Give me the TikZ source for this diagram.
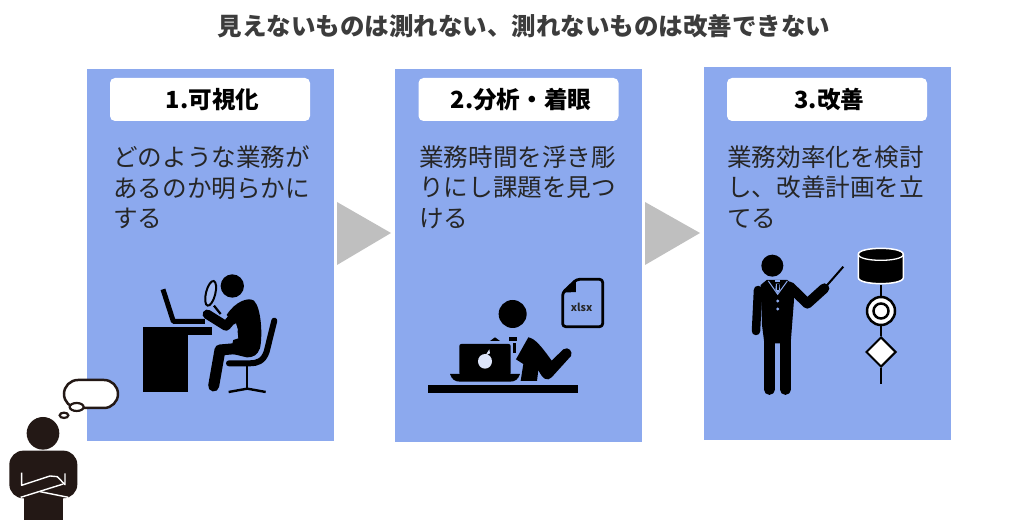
\documentclass[tikz,border=0pt]{standalone}
\usepackage{xcolor}
\usepackage{fontspec}
\setmainfont{Noto Sans CJK JP}
\usetikzlibrary{shapes.geometric}
\definecolor{panelblue}{HTML}{8CA9EE}
\definecolor{arrowgray}{HTML}{BFBFBF}
\definecolor{inkdark}{HTML}{231815}
\definecolor{textdark}{HTML}{262626}

\begin{document}
\begin{tikzpicture}[x=1pt,y=-1pt,
  panelbox/.style={fill=panelblue, minimum width=247pt, minimum height=372pt, inner sep=0pt},
  headbox/.style={fill=white, rounded corners=5pt, minimum width=200pt, minimum height=43pt, inner sep=0pt,
    text=black, font=\fontsize{23.6}{28}\selectfont\bfseries},
  bodytext/.style={anchor=north west, align=left, inner sep=0pt, text=textdark,
    font=\fontsize{24.6}{30.6}\selectfont},
  flowline/.style={black, line width=2pt},
  icon/.style={shift={#1}, scale=0.3333}
]
\useasboundingbox (0,0) rectangle (1024,526);

% Title
\node[font=\fontsize{24.5}{28}\selectfont\bfseries, text=textdark!90!white] (title) at (524,26) {見えないものは測れない、測れないものは改善できない};

% Panels
\node[panelbox] (panelA) at (210.5,255) {};
\node[panelbox] (panelB) at (518.5,255.5) {};
\node[panelbox] (panelC) at (827.5,253.5) {};

% Headers
\node[headbox] (headA) at (210,99.5) {\hspace*{5pt}1.可視化};
\node[headbox] (headB) at (518.5,99.5) {\hspace*{5pt}2.分析・着眼};
\node[headbox] (headC) at (827,99.5) {\hspace*{5pt}3.改善};

% Body texts
\node[bodytext] (textA) at (113,145.5) {どのような業務が\\あるのか明らかに\\する};
\node[bodytext] (textB) at (419,145.5) {業務時間を浮き彫\\りにし課題を見つ\\ける};
\node[bodytext] (textC) at (727,145.5) {業務効率化を検討\\し、改善計画を立\\てる};

% Arrows between panels
\fill[arrowgray] (337,202) -- (391,233) -- (337,265) -- cycle;
\fill[arrowgray] (645,202) -- (700,233) -- (645,265) -- cycle;

% Person at desk
\begin{scope}[icon={(0,260)}]
\fill (428,202) rectangle (565,397);
\fill (428,202) rectangle (635,226);
\draw[line width=5pt, line join=round] (489,88) -- (520,184) -- (615,184);
\fill (697,78) circle (35);
\draw[line width=2pt, fill=panelblue!80!white, rotate around={-14:(632,100)}] (632,100) ellipse (14 and 38);
\draw[line width=2.2pt] (642,137) -- (662,162);
\fill (680,165) .. controls (705,125) and (745,110) .. (762,122) .. controls (785,145) and (788,230) .. (780,265)
  .. controls (772,285) and (762,292) .. (740,292) -- (690,280) -- (700,240) -- (715,235) -- (712,205) -- cycle;
\fill[panelblue] (692,200) -- (708,190) -- (714,212) -- cycle;
\draw[line width=9.5pt, line cap=round, line join=round] (702,170) -- (678,198) -- (622,163);
\draw[line width=11pt, line cap=round, line join=round] (750,262) -- (660,270) -- (641,378);
\draw[line width=6pt, line cap=round, line join=round] (823,182) -- (800,275) .. controls (790,305) and (770,310) .. (750,310) -- (687,310);
\draw[line width=2.2pt] (742,310) -- (742,385);
\draw[line width=2.4pt] (686,396) -- (742,386) -- (797,396);
\end{scope}

% Person with crossed arms
\begin{scope}[icon={(0,260)}]
\fill[inkdark] (129,520) circle (49);
\fill[inkdark, rounded corners=14pt] (28,572) rectangle (232,715);
\fill[inkdark] (72,700) rectangle (188,780);
\draw[white, line width=1.4pt, line join=round] (65,638) -- (65,676) -- (150,648) -- (172,650) -- (195,674) -- (195,640);
\draw[white, line width=1.4pt] (62,712) -- (190,672);
\draw[white, line width=1.4pt] (120,695) -- (205,712);
\draw[inkdark, line width=2.5pt, fill=white, rounded corners=14pt] (192,360) rectangle (354,444);
\draw[inkdark, line width=2.2pt, fill=white] (230,441) ellipse (21 and 12);
\draw[inkdark, line width=2.2pt, fill=white] (192,466) ellipse (13 and 8);
\end{scope}

% Person with laptop
\begin{scope}[icon={(410,260)}]
\fill (55,375) rectangle (505,400);
\fill[rounded corners=2pt] (148,252) rectangle (302,345);
\fill (120,342) -- (330,342) .. controls (325,358) and (315,365) .. (300,365) -- (150,365) .. controls (135,365) and (125,358) .. (120,342) -- cycle;
\fill[panelblue!30!white] (225,304) ellipse (21 and 22);
\fill[panelblue!30!white] (238,268) -- (240,280) -- (226,287) -- cycle;
\fill[black] (253,297) circle (7);
\fill (308,162) circle (42);
\fill (240,243) -- (255,232) -- (270,243) -- cycle;
\fill (298,230) rectangle (320,244);
\fill (310,248) rectangle (319,278);
\fill (355,232) .. controls (375,235) and (395,260) .. (425,302) -- (460,268) .. controls (475,258) and (490,275) .. (483,288)
  -- (425,352) .. controls (412,365) and (398,358) .. (385,330) -- (381,363) -- (332,363) -- (340,312) -- (318,298) -- cycle;
\draw[line width=2.8pt, line join=round, rounded corners=3pt] (500,58) -- (578,58) -- (578,200) -- (458,200) -- (458,98) -- cycle;
\fill (458,98) -- (498,58) -- (498,96) -- cycle;
\node[font=\fontsize{10.5}{12}\selectfont\bfseries, text=textdark] (xlsxlabel) at (515,141) {xlsx};
\end{scope}

% Person with pointer
\begin{scope}[icon={(730,235)}]
\fill (127,92) circle (33);
\fill (92,150) -- (110,135) -- (172,135) .. controls (190,145) and (192,165) .. (192,195) -- (182,325) -- (103,325) -- (96,270) -- cycle;
\draw[line width=8.5pt, line cap=round, line join=round] (84,165) -- (78,288);
\draw[line width=10.5pt, line cap=round] (118,300) -- (118,464);
\draw[line width=10.5pt, line cap=round] (166,300) -- (166,464);
\draw[line width=10pt, line cap=round, line join=round] (180,155) -- (232,206) -- (283,160);
\draw[line width=2pt] (283,160) -- (340,95);
\draw[panelblue, line width=1pt] (115,138) -- (143,178) -- (172,138);
\fill[panelblue] (136,135) rectangle (150,142);
\fill[panelblue] (138,146) -- (148,146) -- (150,165) -- (143,175) -- (136,165) -- cycle;
\fill[black] (140,148) rectangle (146,165);
\fill[panelblue] (143,198) circle (5);
\fill[panelblue] (143,222) circle (5);
\end{scope}

% Flow symbols
\coordinate (flowend) at (881,384);
\node[minimum width=45pt, minimum height=36pt, inner sep=0pt] (dbnode) at (881,266.5) {};
\node[circle, draw=black, line width=2.5pt, fill=white, minimum size=28pt, inner sep=0pt] (ringnode) at (881,311) {};
\node[diamond, draw=black, line width=2pt, fill=white, minimum size=30pt, inner sep=0pt] (decnode) at (881,352) {};
\draw[flowline] (dbnode) -- (ringnode);
\draw[flowline] (ringnode) -- (decnode);
\draw[flowline] (decnode) -- (flowend);
\node[circle, draw=black, line width=2.5pt, fill=white, minimum size=15pt, inner sep=0pt] (ringinner) at (881,311) {};
\begin{scope}[icon={(730,235)}]
\draw[white, line width=1.5pt, fill=black] (385,58) .. controls (385,34) and (520,34) .. (520,58) -- (520,128) .. controls (520,152) and (385,152) .. (385,128) -- cycle;
\draw[white, line width=1.3pt] (385,58) .. controls (385,82) and (520,82) .. (520,58);
\end{scope}
\end{tikzpicture}
\end{document}
